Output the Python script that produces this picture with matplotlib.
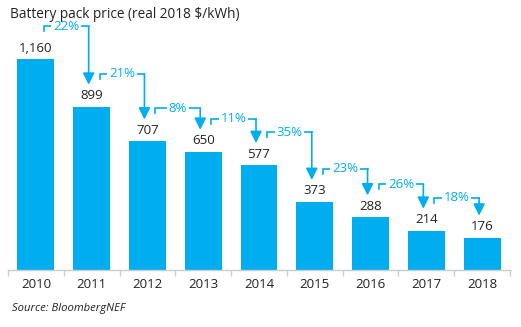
import matplotlib
matplotlib.use("Agg")
import matplotlib.pyplot as plt
from matplotlib.ticker import FixedLocator

years = ['2010', '2011', '2012', '2013', '2014', '2015', '2016', '2017', '2018']
prices = [1160, 899, 707, 650, 577, 373, 288, 214, 176]
drops = ['22%', '21%', '8%', '11%', '35%', '23%', '26%', '18%']

BLUE = '#00AEEF'
GREY = '#CCCCCC'
TEXT = '#222222'
plt.rcParams['font.family'] = ['Open Sans', 'DejaVu Sans']

W, H, DPI = 521, 327, 100
fig = plt.figure(figsize=(W / DPI, H / DPI), dpi=DPI)
ax_h_px = 253.5
ax = fig.add_axes([8 / W, (H - 269.5) / H, 502 / W, ax_h_px / H])
ymax = 1400
ax.set_xlim(-0.5, len(years) - 0.5)
ax.set_ylim(0, ymax)
py = ymax / ax_h_px          # data units per pixel (vertical)
px = len(years) / 502        # category units per pixel (horizontal)

FS = 9.5

x = list(range(len(years)))
ax.bar(x, prices, width=0.66, color=BLUE, zorder=2)

for i, v in enumerate(prices):
    ax.text(i, v + 11 * py, f'{v:,}', ha='center', va='center',
            fontsize=FS, color=TEXT)

for i, d in enumerate(drops):
    x0 = i + 8 * px
    x1 = i + 1 - 3 * px
    yh = prices[i] + 33 * py
    ytip = prices[i + 1] + 22 * py
    ax.plot([x0, x0, x1], [yh - 5 * py, yh, yh], color=BLUE, lw=1.2,
            solid_joinstyle='miter', zorder=3)
    ax.annotate('', xy=(x1, ytip), xytext=(x1, yh),
                arrowprops=dict(arrowstyle='-|>,head_length=0.7,head_width=0.35',
                                color=BLUE, lw=1.2, shrinkA=0, shrinkB=0),
                zorder=3)
    ax.text((x0 + x1) / 2, yh, d, ha='center', va='center', color=BLUE,
            fontsize=FS, zorder=4,
            bbox=dict(fc='white', ec='none', pad=1.2))

for s in ['top', 'right', 'left']:
    ax.spines[s].set_visible(False)
ax.spines['bottom'].set_color(GREY)
ax.spines['bottom'].set_linewidth(1)
ax.set_yticks([])
ax.set_xticks(x)
ax.set_xticklabels(years, fontsize=FS, color=TEXT)
ax.tick_params(axis='x', which='major', length=0, pad=6)
ax.xaxis.set_minor_locator(FixedLocator([i - 0.5 for i in range(len(years) + 1)]))
ax.tick_params(axis='x', which='minor', length=4, color=GREY, width=1)

fig.text(10 / W, 1 - 14 / H, 'Battery pack price (real 2018 $/kWh)',
         fontsize=9.8, color=TEXT, va='center', ha='left')
fig.text(12 / W, 1 - 308 / H, 'Source: BloombergNEF', fontsize=8.1,
         style='italic', color=TEXT, va='center', ha='left')

fig.savefig('out.png', dpi=DPI)
